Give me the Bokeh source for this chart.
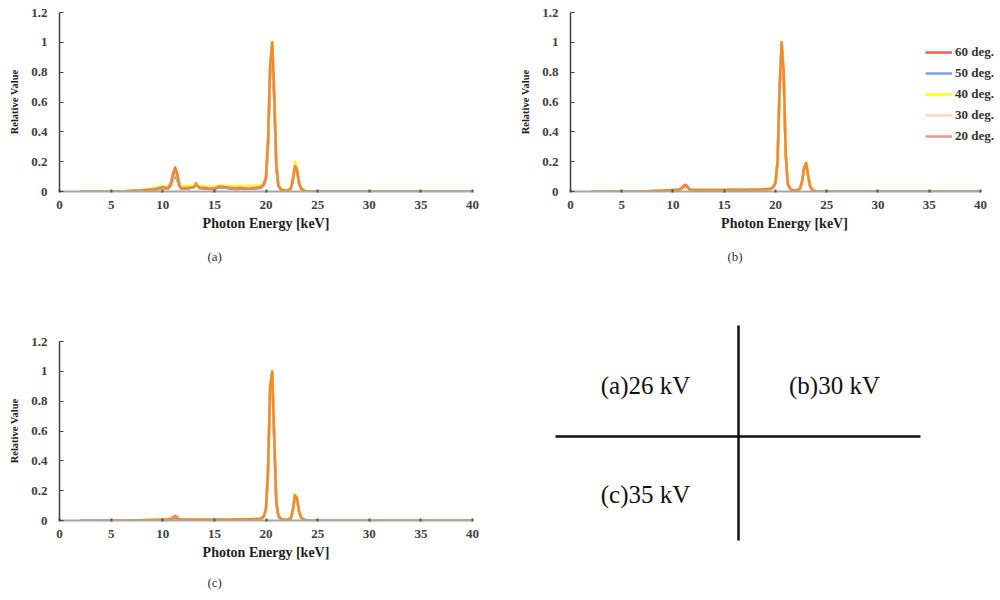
from bokeh.plotting import figure
from bokeh.models import Range1d, FixedTicker, Title, Legend, LegendItem
from bokeh.layouts import row, column
from bokeh.embed import file_html
from bokeh.resources import INLINE
from bokeh.core.properties import value

# ---------------- data ----------------
energy = [2, 4, 6, 7, 8,
          9, 9.5, 10, 10.5, 10.8,
          11.0, 11.2, 11.4, 11.6, 11.8,
          12.0, 12.5, 13.0, 13.2, 13.4,
          13.6, 14.0, 14.5, 15.0, 15.5,
          16.0, 16.5, 17.0, 17.5, 18.0,
          18.5, 19.0, 19.5, 19.8, 20.0,
          20.2, 20.4, 20.6, 20.8, 21.0,
          21.2, 21.5, 22.0, 22.4, 22.6,
          22.8, 23.0, 23.2, 23.4, 23.7,
          24.0, 25, 30, 35, 40]

series_labels = ["60 deg.", "50 deg.", "40 deg.", "30 deg.", "20 deg."]

# panel (a) 26 kV
a_60 = [0, 0, 0, 0.004, 0.007,
        0.012, 0.018, 0.025, 0.02, 0.06,
        0.12, 0.16, 0.12, 0.045, 0.02,
        0.018, 0.022, 0.03, 0.055, 0.04,
        0.025, 0.022, 0.018, 0.018, 0.03,
        0.028, 0.022, 0.018, 0.022, 0.02,
        0.02, 0.022, 0.028, 0.045, 0.09,
        0.33, 0.82, 0.98, 0.62, 0.17,
        0.04, 0.01, 0.005, 0.02, 0.075,
        0.165, 0.145, 0.055, 0.02, 0.005,
        0, 0, 0, 0, 0]
a_50 = [0, 0, 0, 0.003, 0.006,
        0.01, 0.015, 0.025, 0.018, 0.04,
        0.08, 0.1, 0.08, 0.035, 0.018,
        0.018, 0.02, 0.028, 0.04, 0.035,
        0.022, 0.02, 0.016, 0.016, 0.028,
        0.025, 0.02, 0.016, 0.02, 0.018,
        0.018, 0.02, 0.025, 0.045, 0.09,
        0.3, 0.78, 0.95, 0.6, 0.16,
        0.035, 0.01, 0.004, 0.018, 0.07,
        0.16, 0.14, 0.055, 0.018, 0.004,
        0, 0, 0, 0, 0]
a_40 = [0, 0, 0, 0.006, 0.01,
        0.02, 0.028, 0.035, 0.03, 0.05,
        0.1, 0.13, 0.1, 0.045, 0.035,
        0.035, 0.038, 0.04, 0.045, 0.04,
        0.038, 0.035, 0.032, 0.03, 0.04,
        0.038, 0.035, 0.035, 0.038, 0.038,
        0.04, 0.04, 0.042, 0.06, 0.11,
        0.36, 0.86, 1.0, 0.68, 0.2,
        0.05, 0.015, 0.008, 0.025, 0.09,
        0.2, 0.17, 0.07, 0.025, 0.008,
        0, 0, 0, 0, 0]
a_30 = [0, 0, 0, 0.005, 0.008,
        0.015, 0.022, 0.03, 0.022, 0.045,
        0.1, 0.13, 0.1, 0.04, 0.025,
        0.025, 0.028, 0.032, 0.04, 0.035,
        0.03, 0.028, 0.025, 0.025, 0.035,
        0.032, 0.028, 0.025, 0.028, 0.028,
        0.03, 0.03, 0.035, 0.05, 0.1,
        0.34, 0.84, 0.99, 0.66, 0.19,
        0.045, 0.012, 0.006, 0.022, 0.085,
        0.18, 0.16, 0.065, 0.022, 0.006,
        0, 0, 0, 0, 0]
a_20 = [0, 0, 0, 0.005, 0.008,
        0.015, 0.02, 0.03, 0.02, 0.05,
        0.11, 0.15, 0.11, 0.04, 0.02,
        0.02, 0.025, 0.03, 0.045, 0.035,
        0.025, 0.025, 0.02, 0.02, 0.035,
        0.03, 0.025, 0.02, 0.025, 0.02,
        0.022, 0.025, 0.03, 0.05, 0.1,
        0.35, 0.85, 1.0, 0.65, 0.18,
        0.04, 0.01, 0.005, 0.02, 0.08,
        0.17, 0.15, 0.06, 0.02, 0.005,
        0, 0, 0, 0, 0]

# panel (b) 30 kV
b_60 = [0, 0, 0, 0, 0.003,
        0.006, 0.008, 0.01, 0.013, 0.022,
        0.035, 0.045, 0.035, 0.016, 0.01,
        0.01, 0.01, 0.01, 0.01, 0.01,
        0.01, 0.01, 0.01, 0.01, 0.011,
        0.012, 0.012, 0.012, 0.013, 0.013,
        0.014, 0.015, 0.018, 0.03, 0.06,
        0.2, 0.69, 0.99, 0.79, 0.25,
        0.05, 0.012, 0.005, 0.02, 0.07,
        0.16, 0.19, 0.1, 0.03, 0.008,
        0, 0, 0, 0, 0]
b_50 = [0, 0, 0, 0, 0.002,
        0.005, 0.007, 0.008, 0.01, 0.016,
        0.025, 0.03, 0.025, 0.012, 0.008,
        0.008, 0.008, 0.008, 0.008, 0.008,
        0.008, 0.008, 0.009, 0.009, 0.01,
        0.01, 0.01, 0.011, 0.011, 0.012,
        0.012, 0.013, 0.016, 0.028, 0.055,
        0.19, 0.68, 0.98, 0.78, 0.24,
        0.048, 0.011, 0.004, 0.018, 0.068,
        0.155, 0.185, 0.095, 0.028, 0.007,
        0, 0, 0, 0, 0]
b_40 = [0, 0, 0, 0, 0.004,
        0.008, 0.01, 0.012, 0.014, 0.02,
        0.025, 0.028, 0.025, 0.015, 0.012,
        0.012, 0.012, 0.012, 0.012, 0.012,
        0.012, 0.012, 0.012, 0.012, 0.013,
        0.013, 0.014, 0.014, 0.015, 0.015,
        0.016, 0.017, 0.02, 0.032, 0.062,
        0.21, 0.71, 1.0, 0.8, 0.26,
        0.052, 0.013, 0.006, 0.022, 0.072,
        0.165, 0.195, 0.1, 0.032, 0.009,
        0, 0, 0, 0, 0]
b_30 = [0, 0, 0, 0, 0.003,
        0.007, 0.009, 0.011, 0.012, 0.019,
        0.028, 0.035, 0.028, 0.014, 0.011,
        0.011, 0.011, 0.011, 0.011, 0.011,
        0.011, 0.011, 0.011, 0.011, 0.012,
        0.012, 0.013, 0.013, 0.014, 0.014,
        0.015, 0.016, 0.019, 0.031, 0.061,
        0.2, 0.7, 1.0, 0.8, 0.25,
        0.05, 0.012, 0.005, 0.02, 0.07,
        0.16, 0.19, 0.1, 0.03, 0.008,
        0, 0, 0, 0, 0]
b_20 = [0, 0, 0, 0, 0.003,
        0.006, 0.008, 0.01, 0.012, 0.02,
        0.03, 0.04, 0.03, 0.015, 0.01,
        0.01, 0.01, 0.01, 0.01, 0.01,
        0.01, 0.01, 0.01, 0.01, 0.012,
        0.012, 0.012, 0.012, 0.013, 0.013,
        0.014, 0.015, 0.018, 0.03, 0.06,
        0.2, 0.7, 1.0, 0.8, 0.25,
        0.05, 0.012, 0.005, 0.02, 0.07,
        0.16, 0.19, 0.1, 0.03, 0.008,
        0, 0, 0, 0, 0]

# panel (c) 35 kV
c_60 = [0, 0, 0, 0, 0.002,
        0.004, 0.005, 0.006, 0.008, 0.014,
        0.022, 0.03, 0.022, 0.01, 0.006,
        0.006, 0.006, 0.006, 0.006, 0.006,
        0.006, 0.006, 0.006, 0.007, 0.007,
        0.007, 0.007, 0.008, 0.008, 0.008,
        0.009, 0.01, 0.012, 0.03, 0.08,
        0.34, 0.88, 0.99, 0.54, 0.12,
        0.03, 0.008, 0.003, 0.015, 0.068,
        0.165, 0.148, 0.06, 0.02, 0.005,
        0, 0, 0, 0, 0]
c_50 = [0, 0, 0, 0, 0.002,
        0.003, 0.004, 0.005, 0.006, 0.008,
        0.012, 0.015, 0.012, 0.007, 0.005,
        0.005, 0.005, 0.005, 0.005, 0.005,
        0.005, 0.005, 0.006, 0.006, 0.006,
        0.006, 0.007, 0.007, 0.007, 0.008,
        0.008, 0.009, 0.011, 0.028, 0.078,
        0.33, 0.87, 0.98, 0.53, 0.11,
        0.028, 0.007, 0.003, 0.014, 0.066,
        0.16, 0.145, 0.058, 0.019, 0.005,
        0, 0, 0, 0, 0]
c_40 = [0, 0, 0, 0, 0.003,
        0.006, 0.008, 0.01, 0.01, 0.012,
        0.016, 0.018, 0.016, 0.01, 0.008,
        0.008, 0.008, 0.008, 0.008, 0.008,
        0.008, 0.008, 0.008, 0.009, 0.009,
        0.009, 0.009, 0.01, 0.01, 0.01,
        0.011, 0.012, 0.014, 0.032, 0.082,
        0.36, 0.91, 1.0, 0.56, 0.13,
        0.032, 0.009, 0.004, 0.016, 0.072,
        0.175, 0.155, 0.062, 0.021, 0.006,
        0, 0, 0, 0, 0]
c_30 = [0, 0, 0, 0, 0.002,
        0.004, 0.005, 0.006, 0.007, 0.01,
        0.015, 0.02, 0.015, 0.008, 0.006,
        0.006, 0.006, 0.006, 0.006, 0.006,
        0.006, 0.006, 0.006, 0.007, 0.007,
        0.007, 0.007, 0.008, 0.008, 0.008,
        0.009, 0.01, 0.012, 0.03, 0.08,
        0.35, 0.9, 1.0, 0.55, 0.12,
        0.03, 0.008, 0.003, 0.015, 0.07,
        0.17, 0.15, 0.06, 0.02, 0.005,
        0, 0, 0, 0, 0]
c_20 = [0, 0, 0, 0, 0.002,
        0.004, 0.005, 0.006, 0.007, 0.01,
        0.015, 0.02, 0.015, 0.008, 0.006,
        0.006, 0.006, 0.006, 0.006, 0.006,
        0.006, 0.006, 0.006, 0.007, 0.007,
        0.007, 0.007, 0.008, 0.008, 0.008,
        0.009, 0.01, 0.012, 0.03, 0.08,
        0.35, 0.9, 1.0, 0.55, 0.12,
        0.03, 0.008, 0.003, 0.015, 0.07,
        0.17, 0.15, 0.06, 0.02, 0.005,
        0, 0, 0, 0, 0]

x_ticks = [0, 5, 10, 15, 20, 25, 30, 35, 40]
y_ticks = [0, 0.2, 0.4, 0.6, 0.8, 1.0, 1.2]
y_tick_labels = ["0", "0.2", "0.4", "0.6", "0.8", "1", "1.2"]

x_label = "Photon Energy [keV]"
y_label = "Relative Value"

captions = ["(a)", "(b)", "(c)"]

key_texts = ["(a)26 kV", "(b)30 kV", "(c)35 kV"]
key_x = [139, 328, 139]
key_y = [95, 95, 204]
cross_v_x = [232, 232]
cross_v_y = [35, 250]
cross_h_x = [49, 414]
cross_h_y = [146, 146]

# ---------------- styles ----------------
plot_colors = ["#f25c5c", "#819ff0", "#ffff1a", "#ffd6b8", "#f08a2c"]
legend_colors = ["#f25c5c", "#819ff0", "#ffff1a", "#ffd6b8", "#eb9393"]
SERIF = "Liberation Serif"
NAN = float("nan")


def make_panel(width, height, bl, br, bt, bb, series, cap_i, cap_offset, cap_standoff,
               x_end=40, legend=False):
    p = figure(width=width, height=height, output_backend="svg", toolbar_location=None,
               x_range=Range1d(0, x_end), y_range=Range1d(0, 1.2),
               min_border_left=bl, min_border_right=br, min_border_top=bt, min_border_bottom=bb)
    p.grid.visible = False
    p.outline_line_color = None
    p.background_fill_color = "white"
    p.border_fill_color = "white"

    for ys, c in zip(series, plot_colors):
        p.line(energy, ys, line_color=c, line_width=2.5, line_join="round")

    xa = p.xaxis[0]
    xa.bounds = (0, 40)
    xa.ticker = FixedTicker(ticks=x_ticks)
    xa.axis_line_color = "#a6a6a6"
    xa.axis_line_width = 2
    xa.major_tick_in = 2
    xa.major_tick_out = 1
    xa.major_tick_line_width = 2
    xa.major_tick_line_color = "#555555"
    xa.minor_tick_line_color = None
    xa.major_label_standoff = 8
    xa.major_label_text_font = SERIF
    xa.major_label_text_font_style = "bold"
    xa.major_label_text_font_size = "13px"
    xa.major_label_text_color = "#404040"
    xa.axis_label = x_label
    xa.axis_label_text_font = SERIF
    xa.axis_label_text_font_style = "bold"
    xa.axis_label_text_font_size = "14px"
    xa.axis_label_text_color = "#222222"
    xa.axis_label_standoff = 4

    ya = p.yaxis[0]
    ya.ticker = FixedTicker(ticks=y_ticks)
    ya.major_label_overrides = {t: l for t, l in zip(y_ticks, y_tick_labels)}
    ya.axis_line_color = "#404040"
    ya.axis_line_width = 1.5
    ya.major_tick_in = 4
    ya.major_tick_out = 0
    ya.major_tick_line_color = "#404040"
    ya.minor_tick_line_color = None
    ya.major_label_standoff = 12
    ya.major_label_text_font = SERIF
    ya.major_label_text_font_style = "bold"
    ya.major_label_text_font_size = "13px"
    ya.major_label_text_color = "#404040"
    ya.axis_label = y_label
    ya.axis_label_text_font = SERIF
    ya.axis_label_text_font_style = "bold"
    ya.axis_label_text_font_size = "10.5px"
    ya.axis_label_text_color = "#222222"
    ya.axis_label_standoff = 8

    p.add_layout(Title(text=captions[cap_i], align="left", offset=cap_offset,
                       standoff=cap_standoff, text_line_height=1.0,
                       text_font=SERIF, text_font_style="normal", text_font_size="13px",
                       text_color="#333333"), "below")

    if legend:
        items = []
        for lab, c in zip(series_labels, legend_colors):
            r = p.line([NAN], [NAN], line_color=c, line_width=2.5)
            items.append(LegendItem(label=lab, renderers=[r]))
        lg = Legend(items=items, location=(355, 47), orientation="vertical",
                    glyph_width=27, glyph_height=16, label_height=16, spacing=5,
                    label_standoff=3, padding=0, margin=0,
                    border_line_color=None, background_fill_alpha=0,
                    label_text_font=SERIF, label_text_font_style="bold",
                    label_text_font_size="13px", label_text_color="#333333")
        p.add_layout(lg, "center")
    return p


fa = make_panel(506, 290, 59, 34, 12, 99, [a_60, a_50, a_40, a_30, a_20], 0, 148, 27)
fb = make_panel(494, 290, 64, 2, 12, 99, [b_60, b_50, b_40, b_30, b_20], 1, 157, 27,
                x_end=41.76, legend=True)
fc = make_panel(506, 310, 59, 34, 51, 80, [c_60, c_50, c_40, c_30, c_20], 2, 148, 21)

fx = figure(width=494, height=310, output_backend="svg", toolbar_location=None,
            x_range=Range1d(0, 494), y_range=Range1d(310, 0),
            x_axis_location=None, y_axis_location=None, min_border=0)
fx.frame_align = False
fx.grid.visible = False
fx.outline_line_color = None
fx.line(cross_v_x, cross_v_y, line_color="#111111", line_width=2.5)
fx.line(cross_h_x, cross_h_y, line_color="#111111", line_width=2.5)
fx.text(x=key_x, y=key_y, text=key_texts, text_align="center", text_baseline="middle",
        text_font=value(SERIF), text_font_size="25px", text_color="#111111")

layout = column(row(fa, fb), row(fc, fx))

open("out.html", "w").write(file_html(layout, INLINE))
